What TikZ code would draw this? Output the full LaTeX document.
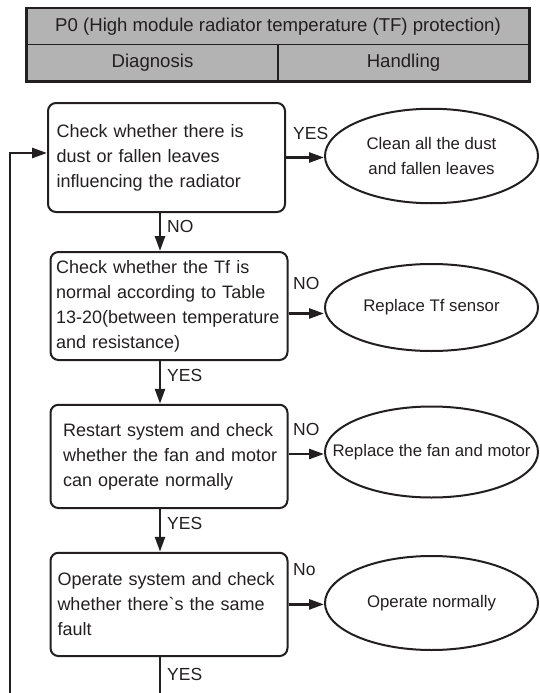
\documentclass[tikz,border=0pt]{standalone}
\usepackage{fontspec}
\setmainfont{Liberation Sans}[Ligatures=TeXOff]
\usetikzlibrary{arrows.meta,shapes.geometric,calc}
\definecolor{ink}{HTML}{231F20}
\definecolor{hdrgray}{HTML}{B3B3B3}
\begin{document}
\begin{tikzpicture}[x=1pt,y=-1pt,
  cell/.style={draw=ink,line width=1.4pt,fill=hdrgray,inner sep=0pt,text=ink,
    font=\fontsize{18.6}{22}\selectfont},
  stepbox/.style={draw=ink,line width=2pt,rounded corners=8pt,minimum width=237pt,
    minimum height=#1,inner ysep=0pt,align=left,text=ink,
    font=\fontsize{18}{25}\selectfont},
  oval/.style={ellipse,draw=ink,line width=2pt,minimum width=213pt,minimum height=#1,inner sep=0pt},
  ovtext/.style={align=center,inner sep=0pt,text=ink,font=\fontsize{16.8}{25.8}\selectfont},
  lbl/.style={anchor=west,inner sep=0pt,text=ink,font=\fontsize{17.5}{20}\selectfont},
  arr/.style={draw=ink,line width=2.6pt,-{Triangle[length=15pt,width=10pt]}},
  plain/.style={draw=ink,line width=2.6pt}
]
\useasboundingbox (0,0) rectangle (539,693);

% header table
\node[cell,minimum width=502pt,minimum height=36.1pt] (hdr) at (278,26.65)
  {P0 (High module radiator temperature (TF) protection)};
\node[cell,minimum width=251pt,minimum height=36.3pt] (diag) at (152.5,62.85) {Diagnosis};
\node[cell,minimum width=251pt,minimum height=36.3pt] (hand) at (403.5,62.85) {Handling};
\draw[ink,line width=2.7pt] (hdr.north west) rectangle (hand.south east);

% decision boxes
\node[stepbox=109pt,inner xsep=8.7pt,text width=219.6pt] (b1) at (166.5,157.5)
  {\mbox{Check whether there is}\\\mbox{dust or fallen leaves}\\\mbox{influencing the radiator}};
\node[stepbox=108pt,inner xsep=5.7pt,text width=225.6pt] (b2) at (169,306)
  {\mbox{Check whether the Tf is}\\\mbox{normal according to Table}\\\mbox{13-20(between temperature}\\\mbox{and resistance)}};
\node[stepbox=103.3pt,inner xsep=12.6pt,text width=211.8pt] (b3) at (169,456.4)
  {\mbox{Restart system and check}\\\mbox{whether the fan and motor}\\\mbox{can operate normally}};
\node[stepbox=103.3pt,inner xsep=7pt,text width=223pt] (b4) at (169,604.4)
  {\mbox{Operate system and check}\\\mbox{whether there`s the same}\\\mbox{fault}};

% handling ellipses
\node[oval=94.5pt,label={[ovtext,name=e1t]center:Clean all the dust\\and fallen leaves}] (e1) at (431.5,156) {};
\node[oval=87pt,label={[ovtext,name=e2t]center:Replace Tf sensor}] (e2) at (431.5,307.5) {};
\node[oval=91pt,label={[ovtext,name=e3t]center:Replace the fan and motor}] (e3) at (431.5,452) {};
\node[oval=94pt,label={[ovtext,name=e4t]center:Operate normally}] (e4) at (431.5,603) {};

% horizontal arrows
\draw[arr] (b1.east) -- (b1.east -| e1.west);
\draw[arr] ([yshift=-7.5pt]b2.east) -- ([yshift=-7.5pt]b2.east -| e2.west);
\draw[arr] ([yshift=2.4pt]b3.east) -- ([yshift=2.4pt]b3.east -| e3.west);
\draw[arr] (b4.east) -- (b4.east -| e4.west);

% vertical arrows
\coordinate (vx) at (160,0);
\draw[arr] (b1.south -| vx) -- (b2.north -| vx);
\draw[arr] (b2.south -| vx) -- (b3.north -| vx);
\draw[arr] (b3.south -| vx) -- (b4.north -| vx);
\coordinate (bot) at (160,693);
\draw[plain] (b4.south -| vx) -- (bot);

% feedback line
\coordinate (fb) at (10,693);
\draw[arr] (fb) |- ([yshift=4.5pt]b1.west);

% labels
\node[lbl] (l1) at (293,133) {YES};
\node[lbl] (l2) at (167,226) {NO};
\node[lbl] (l3) at (293,283) {NO};
\node[lbl] (l4) at (167,375) {YES};
\node[lbl] (l5) at (293,429.5) {NO};
\node[lbl] (l6) at (167,523) {YES};
\node[lbl] (l7) at (293,570) {No};
\node[lbl] (l8) at (167,674) {YES};
\end{tikzpicture}
\end{document}
